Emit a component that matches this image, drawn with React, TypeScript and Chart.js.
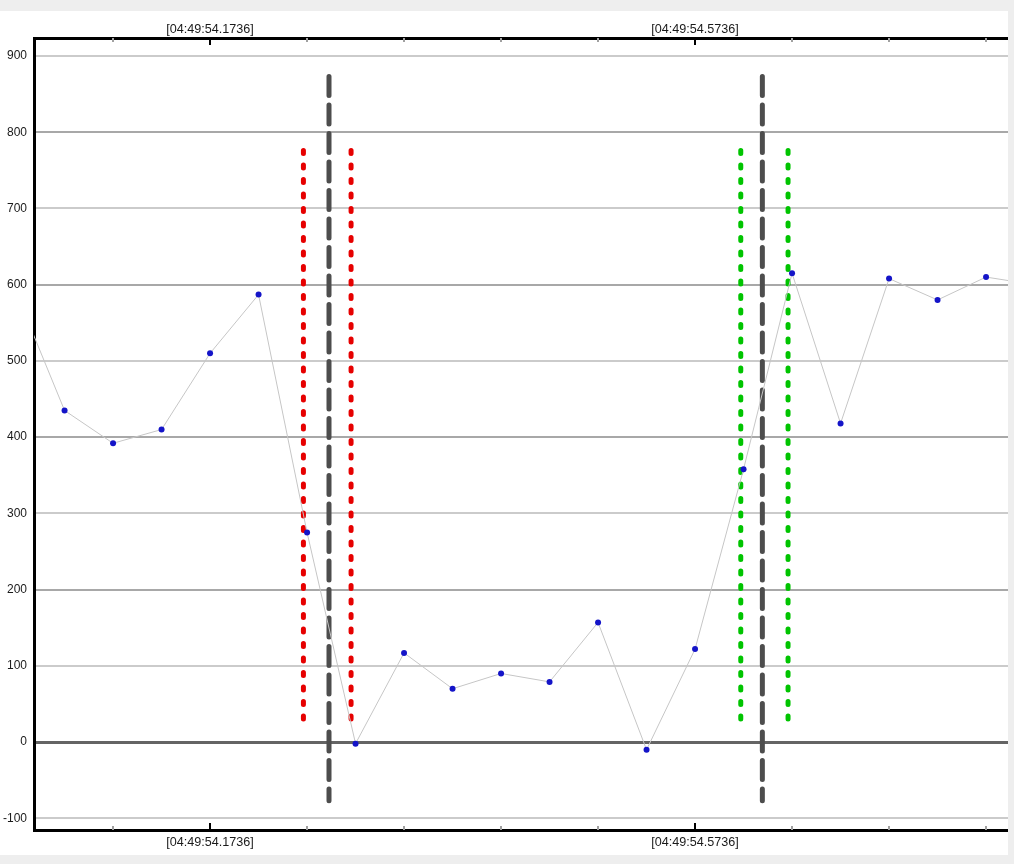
import React, { useEffect, useRef } from "react";
import { Chart, registerables } from "chart.js";

Chart.register(...registerables);

// ---- data ----
const timePrefix = "04:49:";
const sampleSeconds = [
  54.0136, 54.0536, 54.0936, 54.1336, 54.1736, 54.2136, 54.2536, 54.2936,
  54.3336, 54.3736, 54.4136, 54.4536, 54.4936, 54.5336, 54.5736, 54.6136,
  54.6536, 54.6936, 54.7336, 54.7736, 54.8136, 54.8536,
];
const sampleValues = [
  590, 435, 392, 410, 510, 587, 275, -2,
  117, 70, 90, 79, 157, -10, 122, 358,
  615, 418, 608, 580, 610, 600,
];
const xTickSeconds = [
  54.0936, 54.1736, 54.2536, 54.3336, 54.4136, 54.4936, 54.5736, 54.6536,
  54.7336, 54.8136,
];
const xLabelSeconds = [54.1736, 54.5736];
const yTickValues = [-100, 0, 100, 200, 300, 400, 500, 600, 700, 800, 900];

const markerSeconds = [54.2506, 54.2717, 54.2899, 54.6113, 54.6291, 54.6503];
const markerKinds = ["red", "cursor", "red", "green", "cursor", "green"];
const markerTop = [776, 873, 776, 776, 873, 776];
const markerBottom = [18, -77, 18, 18, -77, 18];

const X_MIN = 54.0284;
const X_MAX = 54.8317;
const Y_MIN = -115.3;
const Y_MAX = 923.6;

// ---- styles ----
const FONT_Y = { family: "'Liberation Sans', Arial, sans-serif", size: 12 };
const FONT_X = { family: "'Liberation Sans', Arial, sans-serif", size: 12.6 };
const markerStyle: Record<string, { color: string; dash: number[] }> = {
  red: { color: "#e60000", dash: [3, 11.5] },
  green: { color: "#00c400", dash: [3, 11.5] },
  cursor: { color: "#4d4d4d", dash: [19, 9.5] },
};

const isLabelTick = (v: number) => xLabelSeconds.some((s) => Math.abs(s - v) < 1e-6);
const fmtTime = (v: number) => `[${timePrefix}${v.toFixed(4)}]`;

const tickMarks = {
  id: "tickMarks",
  afterDraw(chart: any) {
    const ctx = chart.ctx;
    const xs = chart.scales.x;
    const { top, bottom } = chart.chartArea;
    ctx.save();
    xTickSeconds.forEach((v) => {
      const px = Math.round(xs.getPixelForValue(v));
      const major = isLabelTick(v);
      const w = 2;
      const len = major ? 7 : 4;
      ctx.fillStyle = major ? "#000000" : "#a0a0a0";
      ctx.fillRect(px - w / 2, top, w, len);
      ctx.fillRect(px - w / 2, bottom - len, w, len);
    });
    ctx.restore();
  },
};

function xAxis(position: "top" | "bottom", height: number, pad: number) {
  return {
    type: "linear",
    position,
    min: X_MIN,
    max: X_MAX,
    afterBuildTicks: (s: any) => {
      s.ticks = xTickSeconds.map((value) => ({ value }));
    },
    afterFit: (s: any) => {
      s.height = height;
    },
    grid: { display: false, drawTicks: false },
    border: { display: true, color: "#000000", width: 3 },
    ticks: {
      autoSkip: false,
      maxRotation: 0,
      minRotation: 0,
      padding: pad,
      color: "#1a1a1a",
      font: FONT_X,
      callback: (v: number) => (isLabelTick(v) ? fmtTime(v) : ""),
    },
  };
}

export default function App() {
  const ref = useRef<HTMLCanvasElement>(null);

  useEffect(() => {
    document.body.style.margin = "0";
    const canvas = ref.current;
    if (!canvas) return;

    const markerSets = markerSeconds.map((t, i) => {
      const st = markerStyle[markerKinds[i]];
      return {
        type: "line",
        data: [
          { x: t, y: markerTop[i] },
          { x: t, y: markerBottom[i] },
        ],
        borderColor: st.color,
        borderWidth: 5,
        borderDash: st.dash,
        borderCapStyle: "round",
        pointRadius: 0,
        order: 2,
      };
    });

    const chart = new Chart(canvas, {
      type: "line",
      data: {
        datasets: [
          {
            data: sampleSeconds.map((x, i) => ({ x, y: sampleValues[i] })),
            borderColor: "#c6c6c6",
            borderWidth: 1,
            pointRadius: 3,
            pointBorderWidth: 0,
            pointBackgroundColor: "#1414c8",
            tension: 0,
            order: 0,
          },
          ...markerSets,
        ] as any,
      },
      options: {
        animation: false,
        responsive: false,
        maintainAspectRatio: false,
        layout: { padding: 0, autoPadding: false },
        plugins: { legend: { display: false }, tooltip: { enabled: false } },
        scales: {
          x: xAxis("bottom", 25, 5),
          xTop: xAxis("top", 27, 1),
          y: {
            type: "linear",
            position: "left",
            min: Y_MIN,
            max: Y_MAX,
            afterBuildTicks: (s: any) => {
              s.ticks = yTickValues.map((value) => ({ value }));
            },
            afterFit: (s: any) => {
              s.width = 34;
            },
            grid: {
              drawTicks: false,
              color: (c: any) => {
                const v = c.tick ? c.tick.value : 1;
                if (v === 0) return "#646464";
                return Math.abs(v) % 200 === 0 ? "#a8a8a8" : "#cbcbcb";
              },
              lineWidth: (c: any) => {
                const v = c.tick ? c.tick.value : 1;
                return v === 0 ? 3 : 2;
              },
            },
            border: { display: true, color: "#000000", width: 3 },
            ticks: {
              padding: 7,
              color: "#1a1a1a",
              font: FONT_Y,
            },
          },
        } as any,
      },
      plugins: [tickMarks],
    } as any);

    return () => chart.destroy();
  }, []);

  return (
    <div style={{ position: "absolute", left: 0, top: 0, width: 1014, height: 864, background: "#eeeeee" }}>
      <div style={{ position: "absolute", left: 0, top: 11, width: 1008, height: 844, background: "#ffffff" }}>
        <canvas ref={ref} width={1008} height={844} style={{ display: "block", width: 1008, height: 844 }} />
      </div>
    </div>
  );
}
